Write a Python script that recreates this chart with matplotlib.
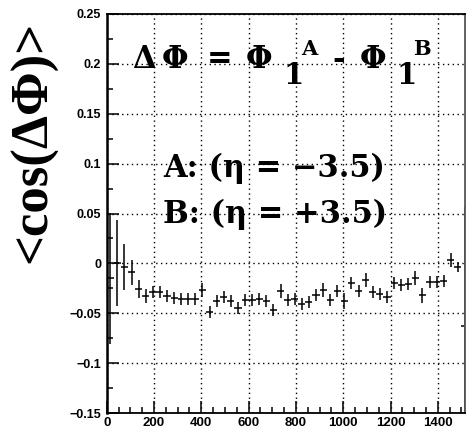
"""
<cos(dPhi)> vs x : ROOT style profile with dotted grid.
"""

import numpy as np
import matplotlib
matplotlib.use("Agg")
import matplotlib.pyplot as plt
from matplotlib.ticker import MultipleLocator

# --- data ---
bin_width = 30
bin_edges = np.arange(0, 51 * bin_width + 1, bin_width)

cos_mean = [
    -0.015, 0.000, -0.004, -0.009, -0.026, -0.033, -0.029, -0.029, -0.033, -0.035,
    -0.036, -0.036, -0.036, -0.027, -0.049, -0.038, -0.034, -0.038, -0.045, -0.037,
    -0.037, -0.036, -0.038, -0.047, -0.028, -0.037, -0.036, -0.041, -0.039, -0.032,
    -0.027, -0.037, -0.028, -0.038, -0.020, -0.028, -0.017, -0.029, -0.031, -0.034,
    -0.020, -0.022, -0.021, -0.015, -0.032, -0.019, -0.019, -0.018, 0.003, -0.004,
    -0.063,
]
cos_err = [
    0.066, 0.043, 0.023, 0.0125, 0.009, 0.007, 0.006, 0.006, 0.006, 0.006,
    0.006, 0.006, 0.006, 0.007, 0.006, 0.006, 0.006, 0.006, 0.006, 0.006,
    0.006, 0.006, 0.006, 0.006, 0.007, 0.006, 0.006, 0.006, 0.006, 0.006,
    0.007, 0.006, 0.006, 0.008, 0.006, 0.006, 0.007, 0.006, 0.006, 0.006,
    0.006, 0.006, 0.006, 0.007, 0.0075, 0.006, 0.006, 0.006, 0.007, 0.005,
    0.12,
]

x_ticks = [0, 200, 400, 600, 800, 1000, 1200, 1400]
x_ticklabels = ["0", "200", "400", "600", "800", "1000", "1200", "1400"]
y_ticks = [-0.15, -0.1, -0.05, 0, 0.05, 0.1, 0.15, 0.2, 0.25]
y_ticklabels = ["\u22120.15", "\u22120.1", "\u22120.05", "0", "0.05", "0.1", "0.15", "0.2", "0.25"]

y_label = "<cos(\u0394\u03a6)>"
label_a = "A: (\u03b7 = \u22123.5)"
label_b = "B: (\u03b7 = +3.5)"

# TLatex-like pieces: (text, x px, baseline px from top, size pt)
title_pieces = [
    ("\u0394", 132, 68, 22), ("\u03a6", 162, 68, 22), ("=", 207, 68, 22),
    ("\u03a6", 246, 68, 22), ("1", 283, 84, 21), ("A", 301, 55, 15),
    ("-", 332, 68, 22), ("\u03a6", 360, 68, 22), ("1", 396, 84, 21),
    ("B", 413, 55, 15),
]

# --- fonts ---
plt.rcParams["font.family"] = ["Liberation Sans", "DejaVu Sans"]

W, H = 468, 433
fig = plt.figure(figsize=(W / 100, H / 100), dpi=100)
fig.patch.set_facecolor("white")
ax = fig.add_axes([106.7 / W, 20 / H, 358.3 / W, 399 / H])

centers = 0.5 * (bin_edges[:-1] + bin_edges[1:])
ax.errorbar(centers, cos_mean, xerr=bin_width / 2, yerr=cos_err, fmt="none",
            ecolor="black", elinewidth=1.1, capsize=0)

ax.set_xlim(0, 1515)
ax.set_ylim(-0.15, 0.25)

ax.set_xticks(x_ticks)
ax.set_xticklabels(x_ticklabels, fontsize=9.5, fontweight="bold")
ax.set_yticks(y_ticks)
ax.set_yticklabels(y_ticklabels, fontsize=9, fontweight="bold")
ax.xaxis.set_minor_locator(MultipleLocator(50))
ax.yaxis.set_minor_locator(MultipleLocator(0.025))

ax.tick_params(which="both", direction="in", top=False, right=False,
               width=1.1, color="black")
ax.tick_params(axis="x", which="major", length=9, pad=3)
ax.tick_params(axis="x", which="minor", length=4.5)
ax.tick_params(axis="y", which="major", length=8.5, pad=4)
ax.tick_params(axis="y", which="minor", length=4.5)

ax.grid(True, which="major", color="black", linestyle=(0, (1, 2.5)),
        linewidth=1.0)
ax.set_axisbelow(True)

for side in ["left", "bottom", "top", "right"]:
    ax.spines[side].set_linewidth(1.3)
    ax.spines[side].set_color("black")
ax.spines["left"].set_linewidth(1.8)
ax.spines["right"].set_color("#555555")


def put(text, x_px, y_px, size):
    fig.text(x_px / W, 1 - y_px / H, text, fontsize=size, fontweight="bold",
             family="DejaVu Serif", ha="left", va="baseline")


# --- annotations ---
for text, x_px, y_px, size in title_pieces:
    put(text, x_px, y_px, size)
put(label_a, 163, 177, 22)
put(label_b, 163, 223, 22)

fig.text(33 / W, 1 - 142 / H, y_label, fontsize=38, fontweight="bold",
         family="Liberation Serif", rotation=90, ha="center", va="center")

fig.savefig("out.png", dpi=100, facecolor=fig.get_facecolor())
plt.close(fig)
